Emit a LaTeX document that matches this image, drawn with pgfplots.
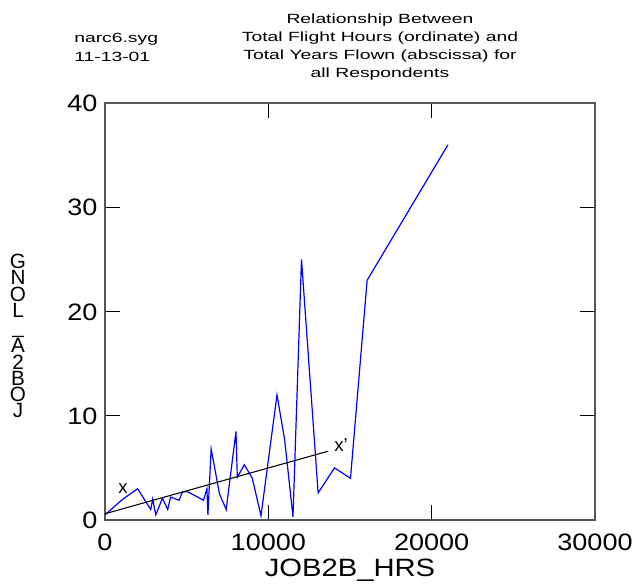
\documentclass[border=0pt]{standalone}
\usepackage{fontspec}
\setmainfont{Liberation Sans}
\usepackage{graphicx}
\usepackage{pgfplots}
\pgfplotsset{compat=1.18}
\definecolor{pureblue}{RGB}{0,0,255}
\definecolor{framegray}{RGB}{85,85,85}
\begin{document}
\begin{tikzpicture}[x=0.75pt,y=0.75pt]
\path[use as bounding box] (-105,-63) rectangle (533,520);
\begin{axis}[
    at={(0,0)}, anchor=south west,
    scale only axis,
    width=367.5pt, height=312.75pt,
    xmin=0, xmax=30000, ymin=0, ymax=40,
    xtick={0,10000,20000,30000},
    ytick={0,10,20,30,40},
    scaled x ticks=false,
    /pgf/number format/set thousands separator={},
    tick align=inside,
    major tick length=11.25pt,
    axis line style={framegray, line width=0.9pt},
    major tick style={black, line width=0.8pt},
    xticklabel={\scalebox{1.14}[1]{\pgfmathprintnumber[assume math mode=true]{\tick}}},
    yticklabel={\scalebox{1.14}[1]{\pgfmathprintnumber[assume math mode=true]{\tick}}},
    xticklabel style={font=\fontsize{17.8}{20}\selectfont, anchor=base, yshift=-22.5pt, inner sep=0pt},
    yticklabel style={font=\fontsize{17.8}{20}\selectfont, anchor=base east, xshift=-5.5pt, yshift=-6.4pt, inner sep=0pt},
    clip=false,
]
\addplot[pureblue, line width=0.9pt] coordinates {
    (0,0.5) (1090,2.0) (2000,3.0) (2800,1.0) (2920,2.0) (3110,0.5)
    (3520,2.1) (3840,1.0) (4010,2.2) (4540,1.9) (4740,2.7) (5070,2.7)
    (6030,1.9) (6240,3.0) (6300,0.5) (6500,6.8) (7010,2.5) (7420,1.0)
    (8020,8.5) (8100,4.1) (8530,5.3) (9020,4.0) (9550,0.4) (10530,12.0)
    (11000,7.7) (11510,0.3) (12030,25.0) (13050,2.6) (14050,5.0)
    (15030,4.0) (16050,23.0) (21000,36.0)
};
\addplot[black, line width=0.8pt] coordinates {(0,0.6) (13660,6.6)};
\node[font=\fontsize{14}{16}\selectfont] at (axis cs:1100,3.0) {x};
\node[font=\fontsize{14}{16}\selectfont] at (axis cs:14450,7.2) {x'};
\end{axis}
% header texts
\node[anchor=base west, inner sep=0pt, font=\fontsize{10}{12}\selectfont] at (-31,477) {\scalebox{1.45}[1]{narc6.syg}};
\node[anchor=base west, inner sep=0pt, font=\fontsize{10}{12}\selectfont] at (-31,459) {\scalebox{1.45}[1]{11-13-01}};
\node[anchor=base, inner sep=0pt, font=\fontsize{10}{12}\selectfont] at (275,496) {\scalebox{1.45}[1]{Relationship Between}};
\node[anchor=base, inner sep=0pt, font=\fontsize{10}{12}\selectfont] at (275,478.2) {\scalebox{1.45}[1]{Total Flight Hours (ordinate) and}};
\node[anchor=base, inner sep=0pt, font=\fontsize{10}{12}\selectfont] at (275,460.4) {\scalebox{1.45}[1]{Total Years Flown (abscissa) for}};
\node[anchor=base, inner sep=0pt, font=\fontsize{10}{12}\selectfont] at (275,442.6) {\scalebox{1.45}[1]{all Respondents}};
% axis labels
\node[anchor=base, inner sep=0pt, font=\fontsize{18.8}{22}\selectfont] at (245,-56) {\scalebox{1.165}[1]{JOB2B\_HRS}};
\node[align=center, inner sep=0pt, font=\fontsize{15.5}{12.1}\selectfont] at (-87,184) {\lineskiplimit=-20pt\relax G\\N\\O\\L\\\_\\A\\2\\B\\O\\J};
\end{tikzpicture}
\end{document}
